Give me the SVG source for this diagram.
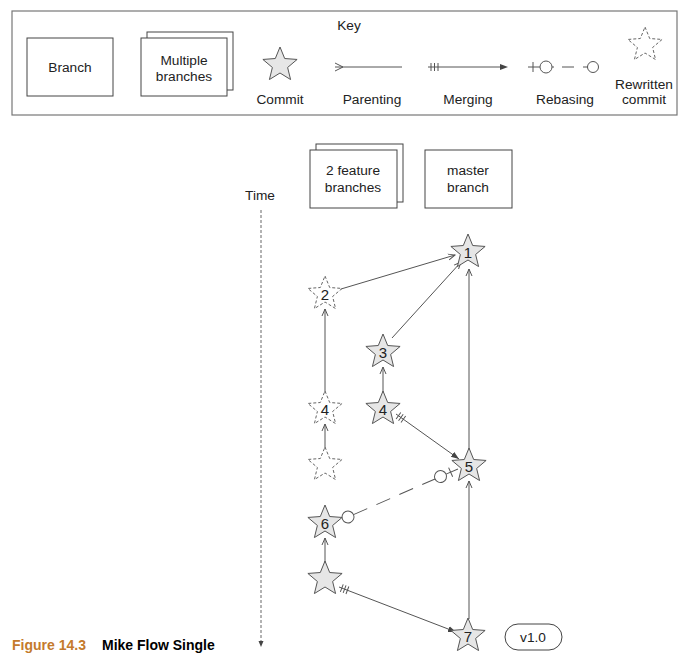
<svg xmlns="http://www.w3.org/2000/svg" width="700" height="666" viewBox="0 0 700 666">
<style>
text{font-family:"Liberation Sans",Arial,sans-serif;font-size:13.7px;fill:#222;}
.c{text-anchor:middle;}
.box{fill:#fff;stroke:#444;stroke-width:1;}
.star{fill:#e6e6e6;stroke:#555;stroke-width:1;}
.dstar{fill:#fff;stroke:#666;stroke-width:1;stroke-dasharray:3,2;}
.ln{fill:none;stroke:#555;stroke-width:1;}
.num{font-size:15px;text-anchor:middle;}
.cap{font-size:14px;font-weight:bold;}
</style>
<defs>
<path id="st" d="M0,-18 L4.7,-6.47 L17.12,-5.56 L7.61,2.47 L10.58,14.56 L0,8 L-10.58,14.56 L-7.61,2.47 L-17.12,-5.56 L-4.7,-6.47 Z"/>
<marker id="par" markerWidth="9" markerHeight="8" refX="7" refY="4" orient="auto" markerUnits="userSpaceOnUse">
<path d="M0,1 L7,4 L0,7" fill="none" stroke="#555" stroke-width="1"/>
</marker>
<marker id="mrg" markerWidth="9" markerHeight="8" refX="8" refY="4" orient="auto" markerUnits="userSpaceOnUse">
<path d="M0,1 L8,4 L0,7 Z" fill="#444"/>
</marker>
</defs>
<rect width="700" height="666" fill="#fff"/>

<g id="key">
<rect x="12" y="11" width="665" height="104" fill="#fff" stroke="#777" stroke-width="1.2"/>
<text x="349" y="30" class="c">Key</text>
<rect class="box" x="27" y="38" width="86" height="58"/>
<text x="70" y="72" class="c">Branch</text>
<rect class="box" x="147" y="32" width="86" height="58"/>
<rect class="box" x="141" y="38" width="86" height="58"/>
<text x="184" y="65" class="c">Multiple</text>
<text x="184" y="81" class="c">branches</text>
<use href="#st" x="280" y="65" class="star"/>
<text x="280" y="104" class="c">Commit</text>
<line class="ln" x1="335" y1="67" x2="402" y2="67"/>
<polyline class="ln" points="335,63 343,67 335,71"/>
<text x="372" y="104" class="c">Parenting</text>
<line class="ln" x1="428" y1="67" x2="500" y2="67"/>
<path d="M500,64 L508,67 L500,70 Z" fill="#444"/>
<path class="ln" d="M431,63 V71 M434.5,63 V71 M438,63 V71"/>
<text x="468" y="104" class="c">Merging</text>
<path class="ln" d="M528,67 H540 M533,62 V72 M552,67 H554 M562,67 H574 M583,67 H588"/>
<circle class="ln" cx="546" cy="67" r="6"/>
<circle class="ln" cx="593" cy="67" r="5.5"/>
<text x="565" y="104" class="c">Rebasing</text>
<use href="#st" x="645" y="45" class="dstar"/>
<text x="644" y="89" class="c">Rewritten</text>
<text x="644" y="104" class="c">commit</text>
</g>

<g id="branch-features">
<rect class="box" x="316" y="144" width="87" height="58"/>
<rect class="box" x="310" y="150" width="87" height="58"/>
<text x="353" y="175" class="c">2 feature</text>
<text x="353" y="192" class="c">branches</text>
</g>
<g id="branch-master">
<rect class="box" x="425" y="150" width="87" height="58"/>
<text x="468" y="175" class="c">master</text>
<text x="468" y="192" class="c">branch</text>
</g>
<g id="time">
<text x="260" y="200" class="c">Time</text>
<line x1="261" y1="210" x2="261" y2="643" stroke="#666" stroke-width="1" stroke-dasharray="3,2"/>
<path d="M258.5,641 L261,647 L263.5,641 Z" fill="#444"/>
</g>

<g id="connectors">
<line class="ln" x1="341" y1="289" x2="455" y2="255" marker-end="url(#par)"/>
<line class="ln" x1="392" y1="338" x2="461" y2="262" marker-end="url(#par)"/>
<line class="ln" x1="469" y1="449" x2="469" y2="269" marker-end="url(#par)"/>
<line class="ln" x1="325" y1="393" x2="325" y2="309" marker-end="url(#par)"/>
<line class="ln" x1="325" y1="449" x2="325" y2="424" marker-end="url(#par)"/>
<line class="ln" x1="383" y1="393" x2="383" y2="367" marker-end="url(#par)"/>
<line class="ln" x1="469" y1="619" x2="469" y2="481" marker-end="url(#par)"/>
<line class="ln" x1="325" y1="563" x2="325" y2="538" marker-end="url(#par)"/>
<line class="ln" x1="396" y1="414" x2="459" y2="459" marker-end="url(#mrg)"/>
<g transform="translate(396,414) rotate(35.5)"><path class="ln" d="M3,-4 V4 M6,-4 V4 M9,-4 V4"/></g>
<line class="ln" x1="339" y1="587" x2="456" y2="632" marker-end="url(#mrg)"/>
<g transform="translate(339,587) rotate(21)"><path class="ln" d="M3,-4 V4 M6,-4 V4 M9,-4 V4"/></g>
<g transform="translate(348,517) rotate(-23.6)">
<circle class="ln" cx="0" cy="0" r="6"/>
<line class="ln" x1="6" y1="0" x2="95" y2="0" stroke-dasharray="15,10"/>
<circle class="ln" cx="101" cy="0" r="6"/>
<line class="ln" x1="107" y1="0" x2="120" y2="0"/>
<line class="ln" x1="112" y1="-5" x2="112" y2="5"/>
</g>
</g>

<g id="c1"><use href="#st" x="468" y="252" class="star"/><text x="468" y="258" class="num">1</text></g>
<g id="c2"><use href="#st" x="325" y="294" class="dstar"/><text x="325" y="300" class="num">2</text></g>
<g id="c3"><use href="#st" x="383" y="352" class="star"/><text x="383" y="358" class="num">3</text></g>
<g id="c4r"><use href="#st" x="325" y="409" class="dstar"/><text x="325" y="415" class="num">4</text></g>
<g id="c4"><use href="#st" x="383" y="409" class="star"/><text x="383" y="415" class="num">4</text></g>
<g id="cr"><use href="#st" x="325" y="465" class="dstar"/></g>
<g id="c5"><use href="#st" x="469" y="466" class="star"/><text x="469" y="472" class="num">5</text></g>
<g id="c6"><use href="#st" x="325" y="523" class="star"/><text x="325" y="529" class="num">6</text></g>
<g id="cm"><use href="#st" x="325" y="579" class="star"/></g>
<g id="c7"><use href="#st" x="468" y="636" class="star"/><text x="468" y="642" class="num">7</text></g>
<g id="tag"><rect x="505" y="624" width="57" height="26" rx="13" class="box"/><text x="533" y="642" class="c">v1.0</text></g>

<g id="caption">
<text x="12" y="650" class="cap" style="fill:#c47a2c">Figure 14.3</text>
<text x="102" y="650" class="cap" style="fill:#000">Mike Flow Single</text>
</g>
</svg>
